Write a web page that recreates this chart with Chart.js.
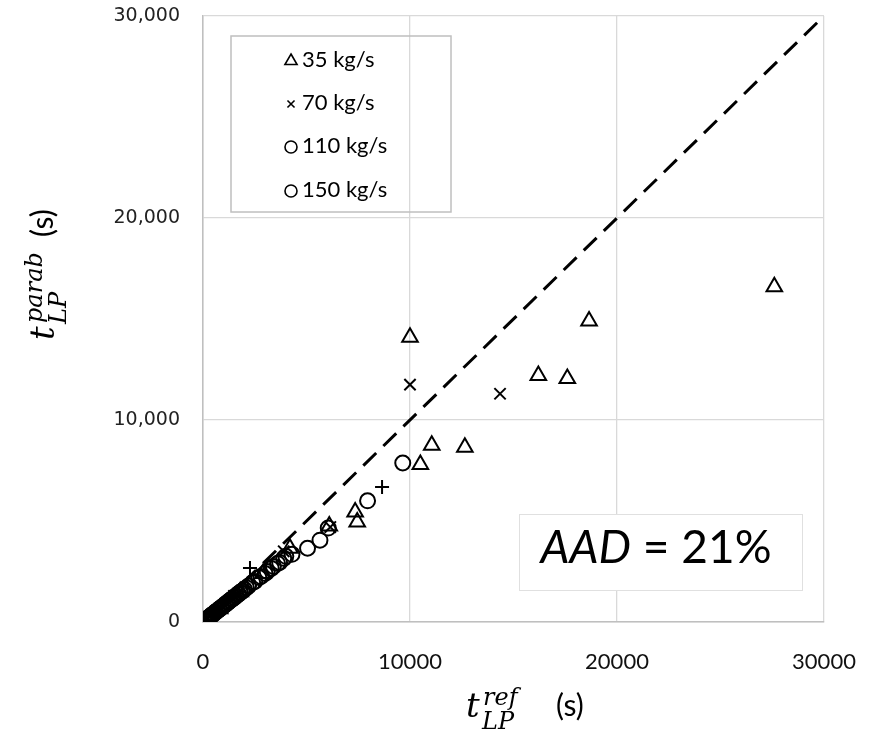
<!DOCTYPE html>
<html>
<head>
<meta charset="utf-8">
<script src="https://cdn.jsdelivr.net/npm/chart.js@4"></script>
<style>
  html, body { margin: 0; padding: 0; background: #fff; }
  canvas { display: block; }
</style>
</head>
<body>
<canvas id="chart" width="882" height="731"></canvas>
<script>
// axis ticks
const xTicks = [0, 10000, 20000, 30000];
const yTicks = [0, 10000, 20000, 30000];
const seriesNames = ['35 kg/s', '70 kg/s', '110 kg/s', '150 kg/s'];

// 35 kg/s (triangles)
const ref35   = [27600, 18650, 10000, 16200, 17600, 11050, 12650, 10500, 7350, 7450, 6100, 4200, 2900, 1800, 800];
const parab35 = [16600, 14900, 14100, 12200, 12050, 8750, 8650, 7800, 5450, 4950, 4750, 3650, 2400, 1500, 650];

// 70 kg/s (crosses), two of them show up as '+'
const ref70   = [10000, 14350, 6150, 3900, 1500, 600];
const parab70 = [11750, 11300, 4700, 3500, 1300, 500];
const ref70p   = [8650, 2270];
const parab70p = [6680, 2670];

// 110 kg/s (circles)
const ref110   = [60, 150, 230, 300, 380, 450, 530, 600, 700, 800, 900, 1000, 1100, 1200, 1300, 1400, 1500, 1600, 1700, 1800, 1900, 2000, 2200, 2500, 2800, 3100, 3400, 3700, 4000, 5050, 5650, 6050, 9650];
const parab110 = [50, 120, 190, 240, 300, 360, 420, 480, 570, 640, 720, 800, 900, 980, 1050, 1130, 1210, 1300, 1380, 1450, 1530, 1620, 1780, 2000, 2250, 2500, 2750, 2950, 3250, 3650, 4050, 4650, 7870];

// 150 kg/s (circles)
const ref150   = [100, 180, 250, 330, 400, 500, 600, 700, 800, 900, 1000, 1100, 1200, 1300, 1400, 1500, 1600, 1700, 1800, 1900, 2100, 2400, 2700, 3000, 3300, 3600, 3900, 4300, 7950];
const parab150 = [90, 150, 200, 260, 330, 400, 490, 560, 650, 730, 810, 880, 960, 1060, 1140, 1200, 1290, 1380, 1470, 1540, 1700, 1950, 2200, 2400, 2650, 2900, 3150, 3350, 6000];

const parityLine = [0, 30000];

const pts = (xs, ys) => xs.map((x, i) => ({ x: x, y: ys[i] }));

const markerBase = {
    borderColor: '#000',
    backgroundColor: 'rgba(0,0,0,0)',
    borderWidth: 2,
    pointHoverRadius: 0
};

// legend, AAD box and the two axis titles with sub/superscripts
const extras = {
    id: 'extras',
    afterDatasetsDraw(chart) {
        const ctx = chart.ctx;
        ctx.save();

        // legend box
        ctx.strokeStyle = '#bfbfbf';
        ctx.lineWidth = 1.5;
        ctx.strokeRect(231, 36, 220, 176);
        const styles = ['triangle', 'crossRot', 'circle', 'circle'];
        const sizes = [7, 5, 6, 6];
        const rows = [60, 103, 146, 190];
        ctx.textBaseline = 'middle';
        ctx.textAlign = 'left';
        seriesNames.forEach((name, i) => {
            ctx.strokeStyle = '#000';
            ctx.fillStyle = 'rgba(0,0,0,0)';
            ctx.lineWidth = 1.6;
            Chart.helpers.drawPoint(ctx, { pointStyle: styles[i], radius: sizes[i], borderWidth: 1.6 }, 291, rows[i] + 1);
            ctx.fillStyle = '#000';
            ctx.font = '22px Lato';
            ctx.fillText(name, 302, rows[i]);
        });

        // AAD box
        ctx.fillStyle = '#fff';
        ctx.fillRect(519, 514, 283, 76);
        ctx.strokeStyle = '#e0e0e0';
        ctx.lineWidth = 1;
        ctx.strokeRect(519.5, 514.5, 283, 76);
        ctx.fillStyle = '#000';
        ctx.textBaseline = 'alphabetic';
        ctx.font = 'italic 46px Lato';
        const a = 'AAD';
        const b = ' = 21%';
        const wa = ctx.measureText(a).width;
        ctx.font = '46px Lato';
        const wb = ctx.measureText(b).width;
        const x0 = 656 - (wa + wb) / 2;
        ctx.font = 'italic 46px Lato';
        ctx.fillText(a, x0, 563);
        ctx.font = '46px Lato';
        ctx.fillText(b, x0 + wa, 563);

        // x title: t_LP^ref (s)
        drawTitleAt(ctx, 466, 717, 'ref', 90);
        ctx.restore();

        // y title: t_LP^parab (s), rotated
        ctx.save();
        ctx.translate(54, 340);
        ctx.rotate(-Math.PI / 2);
        drawTitleAt(ctx, 0, 0, 'parab', 103);
        ctx.restore();
    }
};

function drawTitleAt(ctx, x, y, sup, unitOffset) {
    ctx.fillStyle = '#000';
    ctx.textAlign = 'left';
    ctx.textBaseline = 'alphabetic';
    ctx.font = 'italic 34px "DejaVu Serif"';
    ctx.fillText('t', x, y);
    ctx.font = 'italic 24px "DejaVu Serif"';
    ctx.fillText(sup, x + 17, y - 12);
    ctx.fillText('LP', x + 16, y + 12);
    ctx.font = '30px Lato';
    ctx.fillText('(s)', x + unitOffset, y - 1);
}

new Chart(document.getElementById('chart'), {
    type: 'scatter',
    data: {
        datasets: [
            {
                type: 'line',
                data: pts(parityLine, parityLine),
                borderColor: '#000',
                borderWidth: 3,
                borderDash: [18, 10],
                pointRadius: 0,
                fill: false,
                order: 0
            },
            Object.assign({ data: pts(ref35, parab35), pointStyle: 'triangle', pointRadius: 9, order: 1 }, markerBase),
            Object.assign({ data: pts(ref70, parab70), pointStyle: 'crossRot', pointRadius: 8, order: 2 }, markerBase),
            Object.assign({ data: pts(ref70p, parab70p), pointStyle: 'cross', pointRadius: 7, order: 2 }, markerBase),
            Object.assign({ data: pts(ref110, parab110), pointStyle: 'circle', pointRadius: 7.5, order: 3 }, markerBase),
            Object.assign({ data: pts(ref150, parab150), pointStyle: 'circle', pointRadius: 7.5, order: 4 }, markerBase)
        ]
    },
    options: {
        responsive: false,
        animation: false,
        layout: { padding: { top: 16, right: 58, left: 0, bottom: 0 } },
        plugins: {
            legend: { display: false },
            tooltip: { enabled: false }
        },
        scales: {
            x: {
                type: 'linear',
                min: 0,
                max: 30000,
                afterBuildTicks: (s) => { s.ticks = xTicks.map(v => ({ value: v })); },
                afterFit: (s) => { s.height = 109; s.paddingLeft = 0; s.paddingRight = 0; },
                ticks: {
                    padding: 27,
                    color: '#111',
                    font: { family: 'Lato', size: 22 },
                    callback: (v) => String(v)
                },
                grid: { color: '#d9d9d9', lineWidth: 1.3, drawTicks: false },
                border: { color: '#bfbfbf', width: 1.5 }
            },
            y: {
                type: 'linear',
                min: 0,
                max: 30000,
                afterBuildTicks: (s) => { s.ticks = yTicks.map(v => ({ value: v })); },
                afterFit: (s) => { s.width = 203; s.paddingTop = 0; s.paddingBottom = 0; },
                ticks: {
                    padding: 23,
                    color: '#222',
                    font: { family: 'DejaVu Sans', size: 19 },
                    callback: (v) => v.toLocaleString('en-US')
                },
                grid: { color: '#d9d9d9', lineWidth: 1.3, drawTicks: false },
                border: { color: '#bfbfbf', width: 1.5 }
            }
        }
    },
    plugins: [extras]
});
</script>
</body>
</html>
